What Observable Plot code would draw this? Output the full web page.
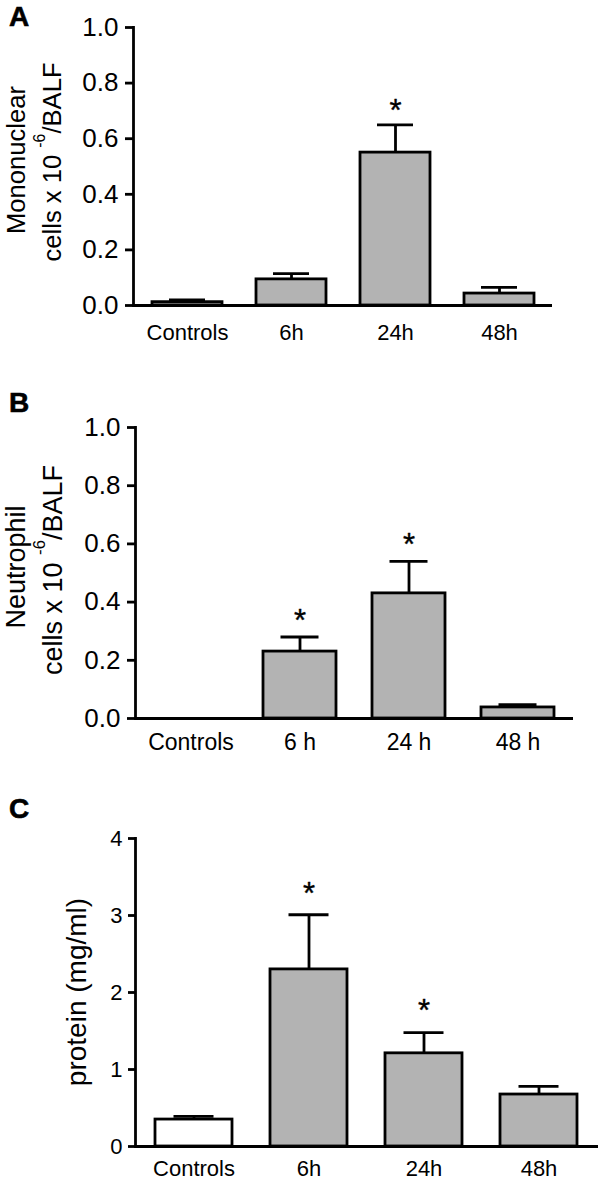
<!DOCTYPE html>
<html><head><meta charset="utf-8">
<script src="https://cdn.jsdelivr.net/npm/d3@7"></script>
<script src="https://cdn.jsdelivr.net/npm/@observablehq/plot@0.6"></script>
<style>
body{margin:0;background:#fff;}
#wrap{position:relative;width:600px;height:1183px;overflow:hidden;}
#wrap svg{display:block;}
</style></head><body><div id="wrap"></div>
<script>
// ---- data ----
const groupsAC = ["Controls", "6h", "24h", "48h"];
const groupsB = ["Controls", "6 h", "24 h", "48 h"];

const monoMean = [0.012, 0.094, 0.55, 0.043];
const monoSem  = [0.008, 0.021, 0.10, 0.022];
const monoSig  = [false, false, true, false];

const neutMean = [0, 0.23, 0.43, 0.038];
const neutSem  = [0, 0.05, 0.11, 0.010];
const neutSig  = [false, true, true, false];

const protMean = [0.35, 2.30, 1.21, 0.675];
const protSem  = [0.04, 0.71, 0.27, 0.105];
const protSig  = [false, true, true, false];

const ticksCells = [0, 0.2, 0.4, 0.6, 0.8, 1.0];
const ticksProt = [0, 1, 2, 3, 4];

const GRAY = "#b3b3b3";
const FONT = "'Liberation Sans', Arial, Helvetica, sans-serif";
const SW = 2.8;

function rows(cats, mean, sem, sig, fills) {
  return cats.map((g, i) => ({g, mean: mean[i], sem: sem[i], top: mean[i] + sem[i], sig: sig[i], fill: fills[i]}));
}

function panel(o) {
  const data = rows(o.cats, o.mean, o.sem, o.sig, o.fills);
  const errData = data.filter(d => d.sem > 0);
  return Plot.plot({
    width: 600, height: o.height,
    marginTop: o.mt, marginBottom: o.mb, marginLeft: o.ml, marginRight: o.mr,
    style: {fontFamily: FONT, color: "black", background: "white", overflow: "visible"},
    x: {domain: o.cats, paddingInner: 0.33, paddingOuter: 0.165},
    y: {domain: [0, o.yMax]},
    color: {type: "identity"},
    marks: [
      Plot.ruleX(errData, {x: "g", y1: "mean", y2: "top", stroke: "black", strokeWidth: SW}),
      Plot.tickY(errData, {x: "g", y: "top", stroke: "black", strokeWidth: SW, insetLeft: o.capInset, insetRight: o.capInset}),
      Plot.barY(data.filter(d => d.mean > 0), {x: "g", y: "mean", fill: "fill", stroke: "black", strokeWidth: SW}),
      Plot.text(data.filter(d => d.sig), {x: "g", y: "top", text: () => "*", fontSize: 31, dy: o.starDy, lineAnchor: "middle", fill: "black", stroke: "black", strokeWidth: 0.4}),
      Plot.axisY({ticks: o.ticks, tickFormat: o.fmt, tickSize: o.tickSize, tickPadding: o.tickPad, fontSize: o.tickFont, strokeWidth: SW, label: null}),
      Plot.axisX({tickSize: 0, tickPadding: o.xPad, fontSize: o.xFont, label: null}),
      Plot.frame({anchor: "left", stroke: "black", strokeWidth: SW}),
      Plot.ruleY([0], {stroke: "black", strokeWidth: SW})
    ]
  });
}

function addLabels(svg, letter, letterPos, lines) {
  const s = d3.select(svg);
  s.append("text").attr("x", letterPos[0]).attr("y", letterPos[1])
    .attr("font-family", FONT).attr("font-weight", "bold").attr("font-size", 28).attr("fill", "black")
    .attr("stroke", "black").attr("stroke-width", 0.6)
    .text(letter);
  for (const ln of lines) {
    const t = s.append("text")
      .attr("transform", `translate(${ln.x},${ln.y}) rotate(-90)`)
      .attr("text-anchor", "middle").attr("font-family", FONT).attr("font-size", ln.size).attr("fill", "black");
    if (ln.sup) {
      t.append("tspan").text(ln.pre);
      t.append("tspan").attr("font-size", ln.size * 0.62).attr("dy", -ln.size * 0.62).text(ln.sup);
      t.append("tspan").attr("dy", ln.size * 0.62).text(ln.post);
    } else {
      t.text(ln.pre);
    }
  }
}

const wrap = document.getElementById("wrap");

const A = panel({cats: groupsAC, mean: monoMean, sem: monoSem, sig: monoSig, fills: [GRAY, GRAY, GRAY, GRAY],
  ticks: ticksCells, fmt: d3.format(".1f"), yMax: 1.0, height: 380, mt: 27, mb: 75, ml: 133, mr: 48,
  tickFont: 26, xFont: 22, xPad: 19, tickSize: 8, tickPad: 7, capInset: 17, starDy: -14});
addLabels(A, "A", [19, 26], [
  {x: 25, y: 160, size: 25.6, pre: "Mononuclear"},
  {x: 61, y: 162, size: 25.6, pre: "cells x 10 ", sup: "-6", post: "/BALF"}
]);
wrap.appendChild(A);

const B = panel({cats: groupsB, mean: neutMean, sem: neutSem, sig: neutSig, fills: [GRAY, GRAY, GRAY, GRAY],
  ticks: ticksCells, fmt: d3.format(".1f"), yMax: 1.0, height: 410, mt: 47, mb: 72, ml: 135, mr: 27,
  tickFont: 26, xFont: 23, xPad: 15, tickSize: 8, tickPad: 7, capInset: 17.5, starDy: -16});
addLabels(B, "B", [19, 32], [
  {x: 25, y: 187, size: 27, pre: "Neutrophil"},
  {x: 62, y: 190, size: 27, pre: "cells x 10 ", sup: "-6", post: "/BALF"}
]);
wrap.appendChild(B);

const C = panel({cats: groupsAC, mean: protMean, sem: protSem, sig: protSig, fills: ["white", GRAY, GRAY, GRAY],
  ticks: ticksProt, fmt: d3.format("d"), yMax: 4, height: 393, mt: 48, mb: 37, ml: 135, mr: 2,
  tickFont: 22, xFont: 22, xPad: 14, tickSize: 7, tickPad: 6, capInset: 18.5, starDy: -21});
addLabels(C, "C", [19, 28], [
  {x: 86, y: 202, size: 28, pre: "protein (mg/ml)"}
]);
wrap.appendChild(C);
</script>
</body></html>
